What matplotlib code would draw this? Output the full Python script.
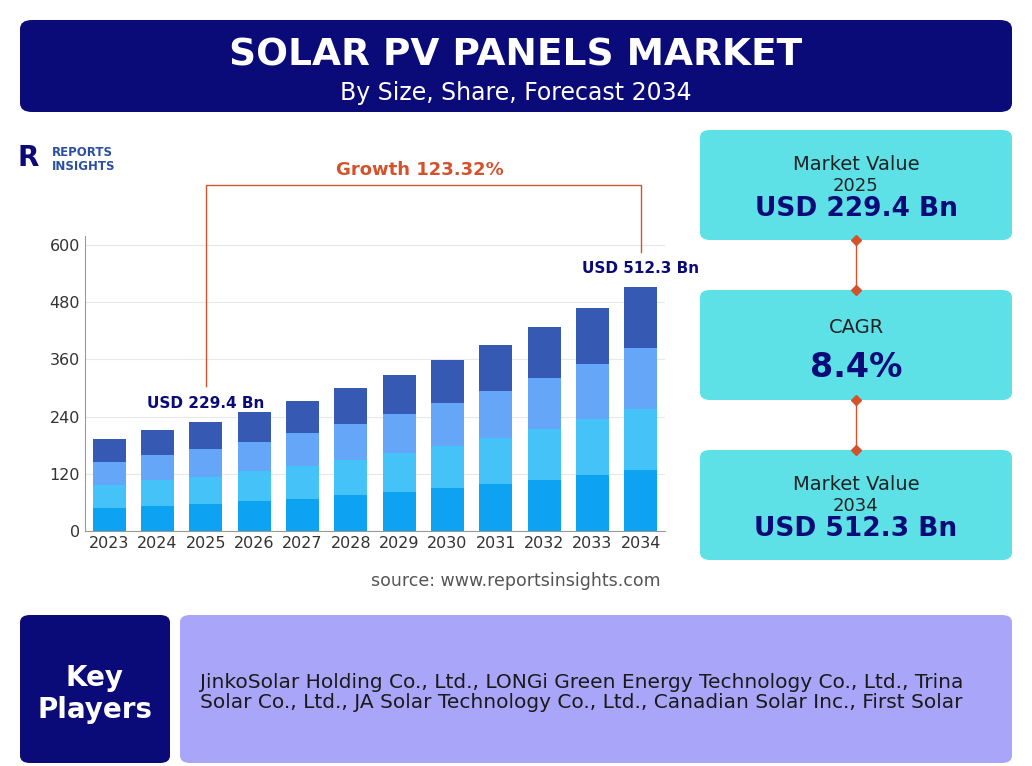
import matplotlib
matplotlib.use("Agg")
import matplotlib.pyplot as plt
from matplotlib.patches import FancyBboxPatch
import numpy as np

years = ["2023","2024","2025","2026","2027","2028","2029","2030","2031","2032","2033","2034"]
seg1 = [48, 53, 57, 62, 68, 75, 82, 90, 98, 107, 117, 128]
seg2 = [48, 53, 57, 63, 68, 75, 82, 89, 97, 107, 117, 128]
seg3 = [48, 53, 57, 62, 69, 75, 81, 90, 98, 107, 117, 128]
seg4 = [49, 53, 58, 63, 68, 75, 82, 89, 97, 107, 117, 128.3]
colors = ["#0EA2F3", "#45C2F8", "#66A6F8", "#3659B3"]

W, H = 1032, 766
fig = plt.figure(figsize=(W/100, H/100), dpi=100)
fig.patch.set_facecolor("white")

def box(x0, y0, x1, y1, color, r=10):
    p = FancyBboxPatch((x0/W, 1-y1/H), (x1-x0)/W, (y1-y0)/H,
                       boxstyle=f"round,pad=0,rounding_size={r/W}",
                       transform=fig.transFigure, facecolor=color, edgecolor="none")
    fig.patches.append(p)

def txt(x, y, s, **kw):
    fig.text(x/W, 1-y/H, s, ha=kw.pop("ha", "center"), va=kw.pop("va", "center"), **kw)

navy = "#0A0A78"
box(20, 20, 1012, 112, navy, 12)
txt(516, 56, "SOLAR PV PANELS MARKET", color="white", fontsize=27, fontweight="heavy")
txt(516, 93, "By Size, Share, Forecast 2034", color="white", fontsize=17)

txt(18, 158, "R", color=navy, fontsize=20, fontweight="bold", ha="left")
txt(52, 152, "REPORTS", color="#2C4FA0", fontsize=8.5, fontweight="bold", ha="left")
txt(52, 166, "INSIGHTS", color="#2C4FA0", fontsize=8.5, fontweight="bold", ha="left")

ax = fig.add_axes([85/W, 1-531/H, 580/W, 295.5/H])
x = np.arange(len(years))
bottom = np.zeros(len(years))
for s, c in zip([seg1, seg2, seg3, seg4], colors):
    ax.bar(x, s, bottom=bottom, color=c, width=0.68, zorder=3)
    bottom += np.array(s)
ax.set_ylim(0, 620)
ax.set_xlim(-0.5, len(years)-0.5)
ax.set_yticks([0, 120, 240, 360, 480, 600])
ax.set_xticks(x)
ax.set_xticklabels(years)
ax.tick_params(axis="both", labelsize=11.5, colors="#333333", length=0)
ax.grid(axis="y", color="#E8E8E8", zorder=0)
for sp in ["top", "right"]:
    ax.spines[sp].set_visible(False)
ax.spines["left"].set_color("#999999")
ax.spines["bottom"].set_color("#999999")

ax.text(2, bottom[2]+22, "USD 229.4 Bn", color=navy, fontsize=11, fontweight="bold", ha="center", va="bottom")
ax.text(11, bottom[11]+22, "USD 512.3 Bn", color=navy, fontsize=11, fontweight="bold", ha="center", va="bottom", clip_on=False)
oc = "#D2532B"
ax.plot([2, 2, 11, 11], [305, 725, 725, 585], color=oc, lw=1, clip_on=False)
txt(420, 170, "Growth 123.32%", color=oc, fontsize=13, fontweight="bold")
txt(516, 581, "source: www.reportsinsights.com", color="#555555", fontsize=12.5)

cyan = "#5DE0E6"
for (y0, y1) in [(130, 240), (290, 400), (450, 560)]:
    box(700, y0, 1012, y1, cyan, 10)
for (a, b) in [(240, 290), (400, 450)]:
    fig.lines.append(plt.Line2D([856/W, 856/W], [1-a/H, 1-b/H], transform=fig.transFigure, color=oc, lw=1))
for yy in [240, 290, 400, 450]:
    fig.lines.append(plt.Line2D([856/W], [1-yy/H], transform=fig.transFigure, marker="D", ms=5, color=oc))
txt(856, 164, "Market Value", color="#222222", fontsize=14)
txt(856, 186, "2025", color="#222222", fontsize=13)
txt(856, 209, "USD 229.4 Bn", color=navy, fontsize=19, fontweight="heavy")
txt(856, 328, "CAGR", color="#222222", fontsize=14)
txt(856, 368, "8.4%", color=navy, fontsize=24, fontweight="heavy")
txt(856, 484, "Market Value", color="#222222", fontsize=14)
txt(856, 506, "2034", color="#222222", fontsize=13)
txt(856, 529, "USD 512.3 Bn", color=navy, fontsize=19, fontweight="heavy")

box(20, 615, 170, 763, navy, 10)
box(180, 615, 1012, 763, "#A9A6FA", 10)
txt(95, 678, "Key", color="white", fontsize=20, fontweight="bold")
txt(95, 710, "Players", color="white", fontsize=20, fontweight="bold")
txt(200, 682, "JinkoSolar Holding Co., Ltd., LONGi Green Energy Technology Co., Ltd., Trina", color="#1A1A1A", fontsize=14.5, ha="left")
txt(200, 703, "Solar Co., Ltd., JA Solar Technology Co., Ltd., Canadian Solar Inc., First Solar", color="#1A1A1A", fontsize=14.5, ha="left")

fig.savefig("out.png", dpi=100)
